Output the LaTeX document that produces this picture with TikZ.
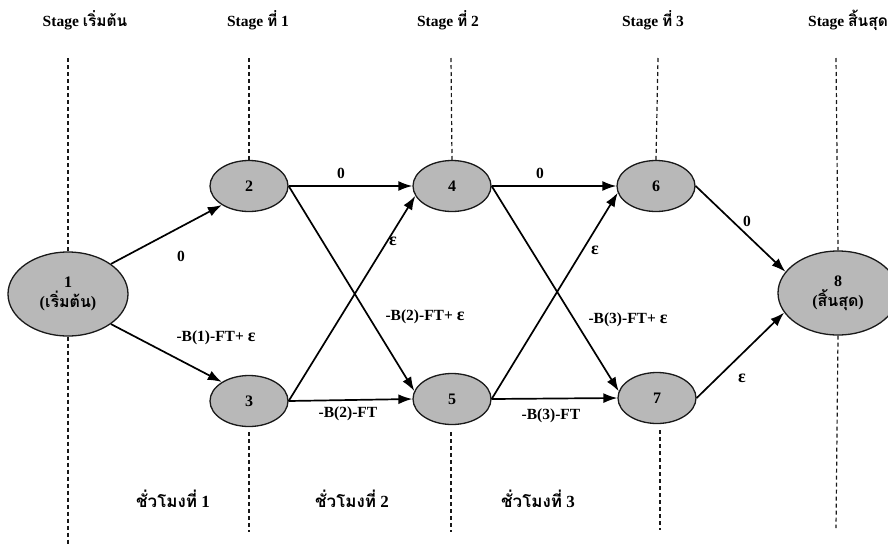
\documentclass[tikz,border=0pt]{standalone}
\usepackage{fontspec}
\setmainfont{Liberation Serif}
\newfontfamily\thai[Script=Thai]{Loma}
\usetikzlibrary{arrows.meta,shapes.geometric}
\newcommand{\eps}{{\fontsize{18}{18}\selectfont ε}}

\begin{document}
\begin{tikzpicture}[x=1pt,y=-1pt,
  state/.style={ellipse, draw=black!90, line width=1.3pt, fill=black!28,
    minimum width=78pt, minimum height=51pt, inner sep=0pt,
    font=\bfseries\fontsize{16}{16}\selectfont},
  endstate/.style={state, minimum width=120pt, minimum height=84pt, align=center,
    font=\bfseries\fontsize{16}{20}\selectfont},
  guide/.style={draw=black!90, line width=1.2pt, dash pattern=on 4pt off 3pt},
  flow/.style={draw=black, line width=1.7pt, -{Latex[length=14pt,width=10pt]}},
  lbl/.style={font=\bfseries\fontsize{15.5}{15.5}\selectfont, inner sep=1pt},
  head/.style={font=\bfseries\fontsize{15.5}{15.5}\selectfont, inner sep=1pt},
  period/.style={font=\bfseries\fontsize{17}{17}\selectfont, inner sep=1pt},
]
\clip (0,0) rectangle (888,544);
\fill[white] (0,0) rectangle (888,544);

% stage headings
\node[head] (h0) at (85,20)  {Stage {\thai เริ่มต้น}};
\node[head] (h1) at (258,20) {Stage {\thai ที่} 1};
\node[head] (h2) at (448,20) {Stage {\thai ที่} 2};
\node[head] (h3) at (653,20) {Stage {\thai ที่} 3};
\node[head] (h4) at (848,20) {Stage {\thai สิ้นสุด}};

% states
\node[endstate] (n1) at (68,294)  {1\\({\thai เริ่มต้น})};
\node[state]    (n2) at (249,186) {2};
\node[state]    (n3) at (249,401) {3};
\node[state]    (n4) at (452,186) {4};
\node[state]    (n5) at (452,399) {5};
\node[state]    (n6) at (656,186) {6};
\node[state]    (n7) at (657,398) {7};
\node[endstate] (n8) at (838,293) {8\\({\thai สิ้นสุด})};

% stage guide lines
\coordinate (g0t) at (68,58);   \coordinate (g0b) at (68,544);
\coordinate (g1t) at (249,58);  \coordinate (g1a) at (249,432); \coordinate (g1b) at (249,532);
\coordinate (g2t) at (451,58);  \coordinate (g2a) at (451,432); \coordinate (g2b) at (451,532);
\coordinate (g3t) at (658,58);  \coordinate (g3a) at (660,430); \coordinate (g3b) at (660,530);
\coordinate (g4t) at (836,58);  \coordinate (g4b) at (836,528);
\draw[guide] (g0t) -- (n1.north);  \draw[guide] (n1.south) -- (g0b);
\draw[guide] (g1t) -- (n2.north);  \draw[guide] (g1a) -- (g1b);
\draw[guide] (g2t) -- (n4.north);  \draw[guide] (g2a) -- (g2b);
\draw[guide] (g3t) -- (n6.north);  \draw[guide] (g3a) -- (g3b);
\draw[guide] (g4t) -- (n8.north);  \draw[guide] (n8.south) -- (g4b);

% flows
\draw[flow] (n1.35)  -- (n2.215);
\draw[flow] (n1.-35) -- (n3.145);
\draw[flow] (n2.east) -- (n4.west);
\draw[flow] (n2.east) -- (n5.168);
\draw[flow] (n3.east) -- (n4.195);
\draw[flow] (n3.east) -- (n5.west);
\draw[flow] (n4.east) -- (n6.west);
\draw[flow] (n4.east) -- (n7.170);
\draw[flow] (n5.east) -- (n6.190);
\draw[flow] (n5.east) -- (n7.west);
\draw[flow] (n6.east) -- (n8.158);
\draw[flow] (n7.east) -- (n8.200);

% flow labels
\node[lbl] (l12) at (181,256) {0};
\node[lbl] (l13) at (216,338) {-B(1)-FT+ \eps};
\node[lbl] (l24) at (341,173) {0};
\node[lbl] (l34) at (393,241) {\eps};
\node[lbl] (l25) at (425,317) {-B(2)-FT+ \eps};
\node[lbl] (l35) at (348,414) {-B(2)-FT};
\node[lbl] (l46) at (540,173) {0};
\node[lbl] (l56) at (595,250) {\eps};
\node[lbl] (l47) at (628,320) {-B(3)-FT+ \eps};
\node[lbl] (l57) at (551,416) {-B(3)-FT};
\node[lbl] (l68) at (747,221) {0};
\node[lbl] (l78) at (742,378) {\eps};

% period labels
\node[period] (p1) at (173,499) {{\thai ชั่วโมงที่} 1};
\node[period] (p2) at (352,499) {{\thai ชั่วโมงที่} 2};
\node[period] (p3) at (538,499) {{\thai ชั่วโมงที่} 3};
\end{tikzpicture}
\end{document}
